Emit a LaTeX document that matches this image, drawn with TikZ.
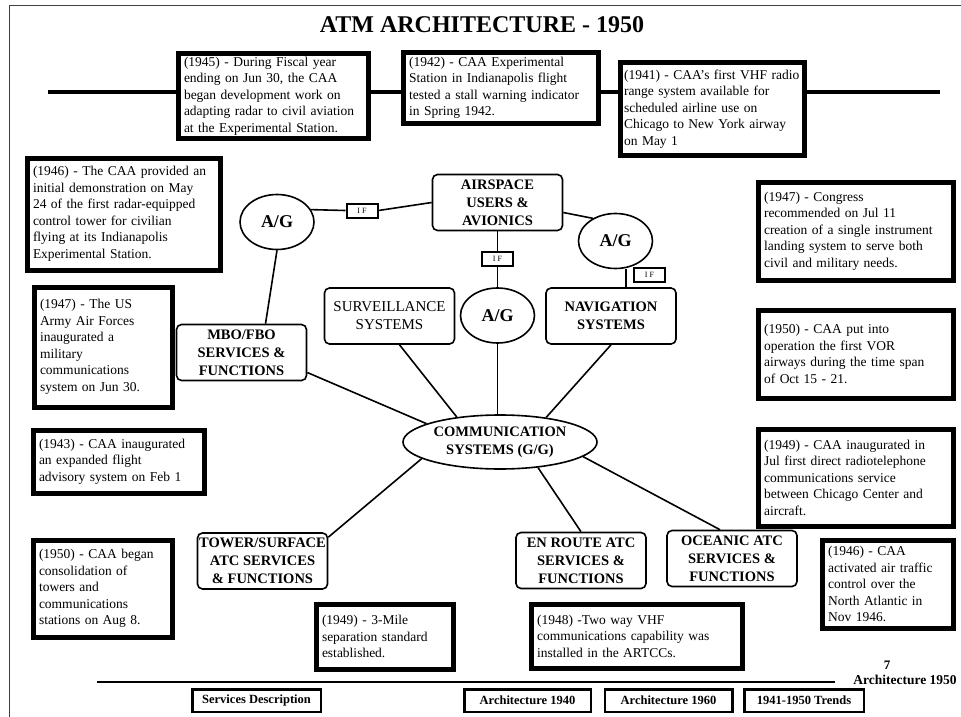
\documentclass[tikz,border=0pt]{standalone}
\usepackage{fontspec}
\setmainfont{Liberation Serif}
\usetikzlibrary{positioning, shapes.geometric}

\begin{document}
\begin{tikzpicture}[
  x=1pt, y=-1pt,
  factbox/.style={
    draw,
    fill=white,
    line width=5pt,
    anchor=north west,
    align=left,
    inner xsep=6pt,
    inner ysep=3pt,
    font=\fontsize{13.5}{16.5}\selectfont
  },
  sysbox/.style={
    draw,
    fill=white,
    rounded corners=5pt,
    line width=1.6pt,
    minimum width=130pt,
    minimum height=56pt,
    inner sep=1pt,
    align=center,
    font=\bfseries\fontsize{14.5}{18}\selectfont
  },
  agnode/.style={
    ellipse,
    draw,
    fill=white,
    line width=1.6pt,
    minimum width=74pt,
    minimum height=55pt,
    inner sep=0pt,
    font=\bfseries\fontsize{18}{20}\selectfont
  },
  ifbox/.style={
    draw,
    fill=white,
    line width=2pt,
    minimum width=31pt,
    minimum height=14pt,
    inner sep=0pt,
    font=\fontsize{8}{9}\selectfont
  },
  navbtn/.style={
    draw,
    fill=white,
    line width=2.5pt,
    minimum height=22.5pt,
    inner sep=2pt,
    font=\bfseries\fontsize{12.5}{14}\selectfont
  },
  link/.style={line width=1.6pt},
  rule/.style={line width=3.5pt}
]
\useasboundingbox (0,0) rectangle (961,717);

% page edge of the scan
\draw[line width=0.8pt, black!75] (961,5) -- (9,5) -- (9,717);

\node[font=\bfseries\fontsize{24}{28}\selectfont] (title) at (482,25) {ATM ARCHITECTURE - 1950};

% time line across the top
\coordinate (tlL) at (48,92);
\coordinate (tlR) at (940,92);
\draw[rule] (tlL) -- (tlR);

\node[factbox, minimum width=190pt, minimum height=83pt, text width=178pt] (f45) at (175.5,51.5) {
  (1945) - During Fiscal year\\ending on Jun 30, the CAA\\began development work on\\adapting radar to civil aviation\\at the Experimental Station.};
\node[factbox, minimum width=195pt, minimum height=70pt, text width=183pt] (f42) at (400.5,50.5) {
  (1942) - CAA Experimental\\Station in Indianapolis flight\\tested a stall warning indicator\\in Spring 1942.};
\node[factbox, inner xsep=4pt, minimum width=184pt, minimum height=92pt, text width=176pt] (f41) at (617.5,60.5) {
  (1941) - CAA's first VHF radio\\range system available for\\scheduled airline use on\\Chicago to New York airway\\on May 1};

% left column
\node[factbox, minimum width=193pt, minimum height=112pt, text width=181pt] (f46a) at (24.5,155.5) {
  (1946) - The CAA provided an\\initial demonstration on May\\24 of the first radar-equipped\\control tower for civilian\\flying at its Indianapolis\\Experimental Station.};
\node[factbox, minimum width=138pt, minimum height=120pt, text width=126pt] (f47a) at (31.5,284.5) {
  (1947) - The US\\Army Air Forces\\inaugurated a\\military\\communications\\system on Jun 30.};
\node[factbox, minimum width=171pt, minimum height=63pt, text width=159pt] (f43) at (30.5,427.5) {
  (1943) - CAA inaugurated\\an expanded flight\\advisory system on Feb 1};
\node[factbox, minimum width=139pt, minimum height=97pt, text width=127pt] (f50a) at (30.5,537.5) {
  (1950) - CAA began\\consolidation of\\towers and\\communications\\stations on Aug 8.};

% right column
\node[factbox, minimum width=195pt, minimum height=98pt, text width=183pt] (f47b) at (755.5,179.5) {
  (1947) - Congress\\recommended on Jul 11\\creation of a single instrument\\landing system to serve both\\civil and military needs.};
\node[factbox, minimum width=195pt, minimum height=88pt, text width=183pt] (f50b) at (755.5,307.5) {
  (1950) - CAA put into\\operation the first VOR\\airways during the time span\\of Oct 15 - 21.};
\node[factbox, minimum width=195pt, minimum height=97pt, text width=183pt] (f49a) at (755.5,426.5) {
  (1949) - CAA inaugurated in\\Jul first direct radiotelephone\\communications service\\between Chicago Center and\\aircraft.};
\node[factbox, minimum width=131pt, minimum height=88pt, text width=119pt] (f46b) at (819.5,537.5) {
  (1946) - CAA\\activated air traffic\\control over the\\North Atlantic in\\Nov 1946.};

% bottom row
\node[factbox, minimum width=137pt, minimum height=65pt, text width=125pt] (f49b) at (313.5,601.5) {
  (1949) - 3-Mile\\separation standard\\established.};
\node[factbox, minimum width=211pt, minimum height=64pt, text width=199pt] (f48) at (528.5,601.5) {
  (1948) -Two way VHF\\communications capability was\\installed in the ARTCCs.};

% architecture
\node[sysbox] (air) at (497.5,202.5) {AIRSPACE\\USERS \&\\AVIONICS};
\node[agnode] (agL) at (277,222) {A/G};
\node[agnode] (agM) at (497.5,315.5) {A/G};
\node[agnode] (agR) at (615.5,241) {A/G};
\node[ifbox] (if1) at (362,210.5) {I F};
\node[ifbox, line width=2.5pt] (if2) at (497.5,259) {I F};
\node[ifbox] (if3) at (649.5,275) {I F};

\node[sysbox, font=\fontsize{15}{18}\selectfont] (sur) at (389.5,316) {SURVEILLANCE\\SYSTEMS};
\node[sysbox] (nav) at (611,316) {NAVIGATION\\SYSTEMS};
\node[sysbox] (mbo) at (241.5,352.5) {MBO/FBO\\SERVICES \&\\FUNCTIONS};
\node[ellipse, draw, fill=white, line width=1.6pt, minimum width=194pt, minimum height=54pt, inner sep=0pt,
  font=\bfseries\fontsize{14.5}{18}\selectfont, align=center] (comm) at (500,442) {COMMUNICATION\\SYSTEMS (G/G)};
\node[sysbox] (tower) at (262.5,561) {TOWER/SURFACE\\ATC SERVICES\\\& FUNCTIONS};
\node[sysbox] (enroute) at (581,560.5) {EN ROUTE ATC\\SERVICES \&\\FUNCTIONS};
\node[sysbox] (ocean) at (732,558.5) {OCEANIC ATC\\SERVICES \&\\FUNCTIONS};

\draw[link] (agL.20) -- (if1.west);
\draw[link] (if1.east) -- (air.west);
\draw[link] ([yshift=-10pt]air.east) -- (agR.135);
\draw[link] (air.south) -- (if2.north);
\draw[link] (if2.south) -- (agM.north);
\draw[line width=2.5pt] ([xshift=10.5pt]agR.south) -- ([xshift=10.5pt]agR.south |- nav.north);
\draw[link] (agL.south) -- ([xshift=24pt]mbo.north);
\draw[link] ([yshift=-20pt]mbo.east) -- (comm.166);
\draw[link] ([xshift=10pt]sur.south) -- (comm.150);
\draw[link] (agM.south) -- (agM.south |- comm.north);
\draw[link] (nav.south) -- (comm.28);
\draw[link] (comm.192) -- ([yshift=-5pt]tower.north east);
\draw[link] (comm.-34) -- (enroute.north);
\draw[link] (comm.-10) -- ([xshift=-12pt]ocean.north);

% footer
\coordinate (blL) at (97,682);
\coordinate (blR) at (835,682);
\draw[line width=2.5pt] (blL) -- (blR);
\node[font=\bfseries\fontsize{13.5}{15}\selectfont] (arch) at (905,680) {Architecture 1950};
\node[font=\bfseries\fontsize{13}{14}\selectfont] (pgno) at (887,665) {7};

\node[navbtn, minimum width=128.5pt] (svc) at (256.5,700.5) {Services Description};
\node[navbtn, minimum width=126.5pt] (a40) at (527.5,700.5) {Architecture 1940};
\node[navbtn, minimum width=127.5pt, right=11.5pt of a40] (a60) {Architecture 1960};
\node[navbtn, minimum width=119.5pt, right=9.5pt of a60] (trends) {1941-1950 Trends};

\end{tikzpicture}
\end{document}
